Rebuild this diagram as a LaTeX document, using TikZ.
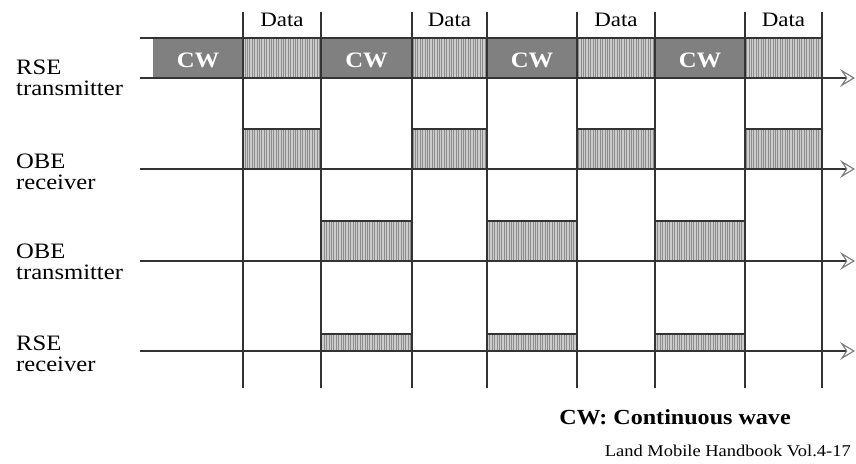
\documentclass[tikz,border=0pt]{standalone}
\usepackage{fontspec}
\setmainfont{Liberation Serif}[FakeStretch=1.12]
\usetikzlibrary{arrows.meta,patterns.meta}

\begin{document}
\begin{tikzpicture}[x=1pt,y=-1pt,
        sig/.style={line width=2pt,draw=black!80},
        axis/.style={sig,-{Stealth[open,length=15pt,width=18pt,inset=6pt,line width=1.2pt,gray]}},
        cwbox/.style={fill=black!50},
        databox/.style={fill=black!20,postaction={pattern={Lines[angle=90,distance=2.4pt,line width=0.6pt]},pattern color=black!45}},
        lbl/.style={align=left,anchor=north west,inner sep=0pt,font=\fontsize{22}{21}\selectfont},
        cwtxt/.style={anchor=base,white,font=\fontsize{22}{22}\selectfont\bfseries},
        slot/.style={anchor=base,font=\fontsize{20.5}{20}\selectfont}]
        \useasboundingbox (0,0) rectangle (856,463);

        % RSE transmitter: continuous wave between data frames
        \foreach \a/\b [count=\i] in {153/243,321/412,487/577,655/745}{
            \fill[cwbox] (\a,38) rectangle (\b,78);
            \node[cwtxt] (cw\i) at ({(\a+\b)/2},67) {CW};
        }
        \foreach \a/\b [count=\i] in {243/321,412/487,577/655,745/822}{
            \fill[databox] (\a,38) rectangle (\b,78);
            \node[slot] (data\i) at ({(\a+\b)/2},27) {Data};
            % OBE receiver gets the frame
            \fill[databox] (\a,129) rectangle (\b,169);
            \draw[sig] (\a,129) -- (\b,129);
        }
        % OBE answers in the CW slots, RSE receives it
        \foreach \a/\b in {321/412,487/577,655/745}{
            \fill[databox] (\a,221) rectangle (\b,261);
            \draw[sig] (\a,221) -- (\b,221);
            \fill[databox] (\a,334) rectangle (\b,351);
            \draw[sig] (\a,334) -- (\b,334);
        }

        \draw[sig] (140,38) -- (822,38);
        \foreach \y in {78,169,261,351}
            \draw[axis] (140,\y) -- (855,\y);
        \foreach \x in {243,321,412,487,577,655,745,822}
            \draw[sig] (\x,12) -- (\x,388);

        \node[lbl] (rsetx) at (16,60) {RSE\\transmitter};
        \node[lbl] (oberx) at (16,154) {OBE\\receiver};
        \node[lbl] (obetx) at (16,244) {OBE\\transmitter};
        \node[lbl] (rserx) at (16,336) {RSE\\receiver};

        \node[anchor=base,font=\fontsize{21.5}{21}\selectfont\bfseries] (note) at (675,424) {CW: Continuous wave};
        \node[anchor=base east,inner sep=0pt,font=\fontsize{16.5}{16.5}\selectfont] (src) at (851,456) {Land Mobile Handbook Vol.4-17};
\end{tikzpicture}
\end{document}
